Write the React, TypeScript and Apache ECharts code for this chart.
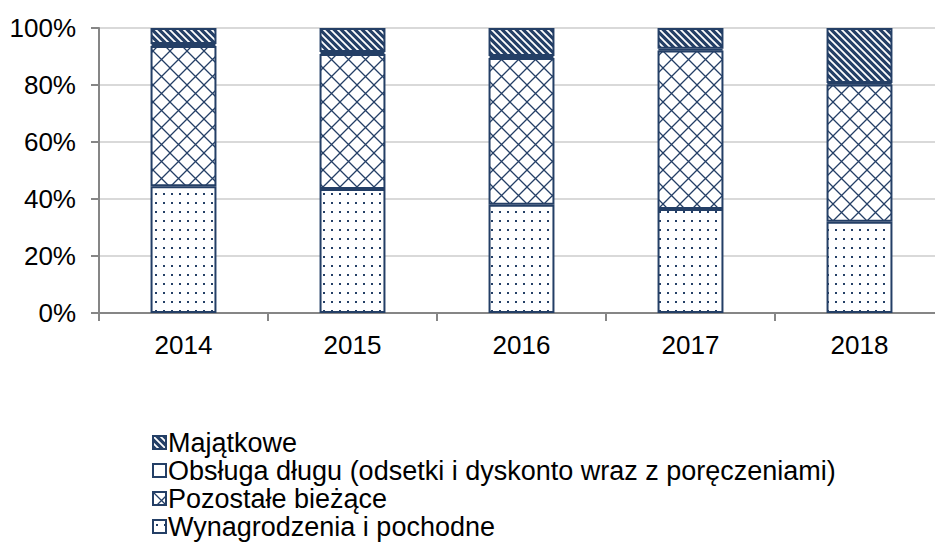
import React, { useEffect, useRef } from "react";
import * as echarts from "echarts";

const categories = ["2014", "2015", "2016", "2017", "2018"];
const wynagrodzenia = [44.5, 43.5, 38.0, 36.5, 32.0];
const pozostale = [49.2, 47.4, 51.5, 55.6, 48.2];
const obsluga = [0.7, 0.7, 0.7, 0.6, 0.5];
const majatkowe = [5.6, 8.4, 9.8, 7.3, 19.3];
const seriesNames = [
  "Wynagrodzenia i pochodne",
  "Pozostałe bieżące",
  "Obsługa długu (odsetki i dyskonto wraz z poręczeniami)",
  "Majątkowe",
];
const yTicks = [0, 20, 40, 60, 80, 100];

const NAVY = "#243F66";

function makeCanvas(w: number, h: number, draw: (c: CanvasRenderingContext2D) => void) {
  const cv = document.createElement("canvas");
  cv.width = w;
  cv.height = h;
  const ctx = cv.getContext("2d")!;
  draw(ctx);
  return cv;
}

function patterns() {
  const stripes = makeCanvas(7, 7, (c) => {
    c.fillStyle = NAVY;
    c.fillRect(0, 0, 7, 7);
    c.strokeStyle = "#ffffff";
    c.lineWidth = 1.8;
    c.beginPath();
    c.moveTo(-1, -1);
    c.lineTo(8, 8);
    c.moveTo(-8, -1);
    c.lineTo(1, 8);
    c.moveTo(6, -1);
    c.lineTo(15, 8);
    c.stroke();
  });
  const lattice = makeCanvas(17, 17, (c) => {
    c.fillStyle = "#ffffff";
    c.fillRect(0, 0, 17, 17);
    c.strokeStyle = NAVY;
    c.lineWidth = 1.3;
    c.beginPath();
    c.moveTo(0, 0);
    c.lineTo(17, 17);
    c.moveTo(17, 0);
    c.lineTo(0, 17);
    c.stroke();
  });
  const dots = makeCanvas(8, 9, (c) => {
    c.fillStyle = "#ffffff";
    c.fillRect(0, 0, 8, 9);
    c.fillStyle = NAVY;
    c.fillRect(3, 4, 2, 2);
  });
  return {
    stripes: { image: stripes, repeat: "repeat" },
    lattice: { image: lattice, repeat: "repeat" },
    dots: { image: dots, repeat: "repeat" },
  };
}

export default function App() {
  const ref = useRef<HTMLDivElement>(null);
  useEffect(() => {
    document.body.style.margin = "0";
    const chart = echarts.init(ref.current!, undefined, { renderer: "svg" });
    const p = patterns();
    const fills: any[] = [p.dots, p.lattice, "#ffffff", p.stripes];
    const values = [wynagrodzenia, pozostale, obsluga, majatkowe];
    const font = "'Liberation Sans', Arial, sans-serif";
    chart.setOption({
      animation: false,
      textStyle: { fontFamily: font },
      grid: { left: 99, right: 0, top: 28, bottom: 236, containLabel: false },
      legend: {
        data: [seriesNames[3], seriesNames[2], seriesNames[1], seriesNames[0]],
        orient: "vertical",
        left: 147,
        top: 424,
        itemWidth: 13,
        itemHeight: 13,
        itemGap: 1,
        icon: "rect",
        textStyle: { fontSize: 27, color: "#000", fontFamily: font, padding: [0, 0, 0, -3] },
      },
      xAxis: {
        type: "category",
        data: categories,
        axisLine: { show: true, lineStyle: { color: "#868686", width: 2 } },
        axisTick: { show: true, length: 8, lineStyle: { color: "#868686", width: 2 } },
        axisLabel: { fontSize: 26, color: "#000", margin: 19, fontFamily: font },
      },
      yAxis: {
        type: "value",
        min: 0,
        max: 100,
        interval: 20,
        axisLine: { show: true, lineStyle: { color: "#868686", width: 2 } },
        axisTick: { show: true, length: 8, lineStyle: { color: "#868686", width: 2 } },
        axisLabel: {
          fontSize: 26,
          color: "#000",
          margin: 23,
          fontFamily: font,
          formatter: (v: number) => (yTicks.includes(v) ? v + "%" : ""),
        },
        splitLine: { show: true, lineStyle: { color: "#D9D9D9", width: 2 } },
      },
      series: seriesNames.map((name, i) => ({
        name,
        type: "bar",
        stack: "total",
        barWidth: "39%",
        data: values[i],
        itemStyle: { color: fills[i], borderColor: NAVY, borderWidth: 2 },
      })),
    });
    return () => chart.dispose();
  }, []);
  return (
    <div style={{ position: "absolute", left: 0, top: 0, width: 935, height: 549, overflow: "hidden" }}>
      <div ref={ref} style={{ width: 944, height: 549 }} />
    </div>
  );
}
